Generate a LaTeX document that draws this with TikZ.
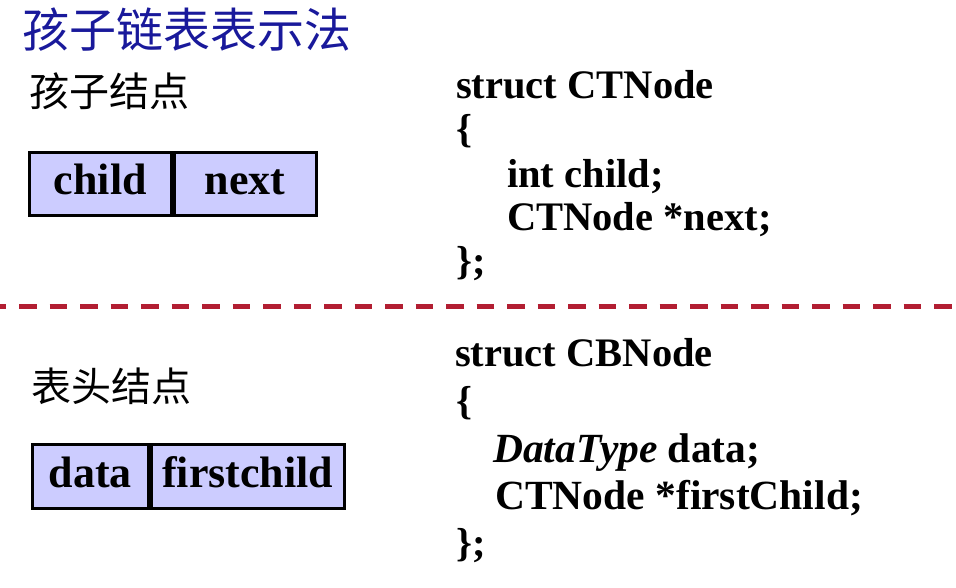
\documentclass[tikz,border=0pt]{standalone}
\usepackage{fontspec}
\setmainfont{Liberation Serif}
\newfontfamily\cjk{Noto Sans CJK SC}
\definecolor{titleblue}{RGB}{25,25,155}
\definecolor{dashred}{RGB}{178,30,50}
\definecolor{cellfill}{RGB}{204,204,255}
\begin{document}
\begin{tikzpicture}[x=1pt,y=-1pt,
  cell/.style={draw=black, line width=3pt, fill=cellfill, inner sep=0pt, anchor=north west,
    text height=30pt, text depth=9pt,
    font=\fontsize{44}{50}\selectfont\bfseries},
  codeline/.style={anchor=base west, inner sep=0pt, font=\fontsize{40.5}{48}\selectfont\bfseries},
  cjklabel/.style={anchor=base west, inner sep=0pt, font=\fontsize{40}{44}\selectfont\cjk},
]
\useasboundingbox (0,0) rectangle (956,587);
\fill[white] (0,0) rectangle (956,587);

% title
\node[anchor=base west, inner sep=0pt, text=titleblue, font=\fontsize{47}{52}\selectfont\cjk] (title) at (22,47) {孩子链表表示法};

% child node
\node[cjklabel] (lab1) at (29,106) {孩子结点};
\node[cell, minimum width=141.5pt, minimum height=63.5pt] (c1) at (28,150.5) {child};
\node[cell, minimum width=142pt, minimum height=63.5pt] (c2) at (c1.north east) {next};

\node[codeline] (s1) at (456,98) {struct CTNode};
\node[codeline] (s2) at (456,142) {\{};
\node[codeline] (s3) at (507,187) {int child;};
\node[codeline] (s4) at (507,230) {CTNode *next;};
\node[codeline] (s5) at (456,274) {\};};

% separator
\coordinate (dl) at (0,306.5);
\coordinate (dr) at (956,306.5);
\draw[dashred, line width=5pt, dash pattern=on 17.5pt off 13pt, dash phase=11.5pt] (dl) -- (dr);

% head node
\node[cjklabel] (lab2) at (31,401) {表头结点};
\node[cell, minimum width=115.5pt, minimum height=64pt] (c3) at (31,443) {data};
\node[cell, minimum width=193.5pt, minimum height=64pt] (c4) at (c3.north east) {firstchild};

\node[codeline] (t1) at (455,366) {struct CBNode};
\node[codeline] (t2) at (456,414) {\{};
\node[codeline, font=\fontsize{41.5}{48}\selectfont\bfseries] (t3) at (493,462) {\textit{DataType} data;};
\node[codeline, font=\fontsize{41.5}{48}\selectfont\bfseries] (t4) at (495,509) {CTNode *firstChild;};
\node[codeline] (t5) at (456,556) {\};};
\end{tikzpicture}
\end{document}
